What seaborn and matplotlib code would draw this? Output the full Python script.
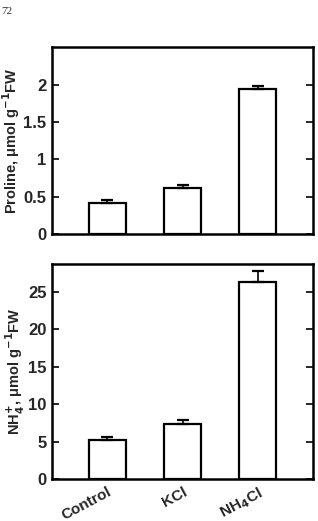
import matplotlib
matplotlib.use("Agg")
import matplotlib.pyplot as plt
import seaborn as sns
import numpy as np
import pandas as pd

# Données
treatments = ["Control", "KCl", "NH$_4$Cl"]
proline = [0.42, 0.61, 1.94]
proline_err = [0.03, 0.04, 0.04]
nh4 = [5.2, 7.4, 26.3]
nh4_err = [0.4, 0.5, 1.5]

sns.set_style("white")
plt.rcParams['font.family'] = ['Liberation Sans', 'DejaVu Sans']
plt.rcParams['font.weight'] = 'bold'

fig = plt.figure(figsize=(3.18, 5.21), dpi=100)
ax1 = fig.add_axes([0.1635, 0.551, 0.8205, 0.359])
ax2 = fig.add_axes([0.1635, 0.0806, 0.8205, 0.4127])


def panel(ax, values, errs, ylim, yticks, yticklabels, ylabel):
    df = pd.DataFrame({"treatment": treatments, "value": values})
    sns.barplot(data=df, x="treatment", y="value", ax=ax, color="white",
                edgecolor="black", linewidth=1.6, width=0.49, errorbar=None)
    x = np.arange(len(values))
    ax.errorbar(x, values, yerr=[np.zeros(len(errs)), errs], fmt="none",
                ecolor="black", elinewidth=1.2, capsize=4, capthick=1.6)
    ax.set_xlim(-0.735, 2.73)
    ax.set_ylim(*ylim)
    ax.set_yticks(yticks)
    ax.set_yticklabels(yticklabels, fontsize=12, fontweight="bold")
    ax.tick_params(axis="y", which="both", direction="in", length=5, width=1.4,
                   left=True, right=True, pad=4)
    ax.tick_params(axis="x", length=0)
    for s in ax.spines.values():
        s.set_linewidth(1.8)
        s.set_color("black")
    ax.set_ylabel(ylabel, fontsize=10.5, fontweight="bold", labelpad=1)
    ax.set_xlabel("")


panel(ax1, proline, proline_err, (0, 2.51), [0, 0.5, 1, 1.5, 2],
      ["0", "0.5", "1", "1.5", "2"], "Proline, \u03bcmol g$^{\\mathbf{-1}}$FW")
ax1.set_xticklabels([])

panel(ax2, nh4, nh4_err, (0, 28.7), [0, 5, 10, 15, 20, 25],
      ["0", "5", "10", "15", "20", "25"],
      "NH$_\\mathbf{4}^\\mathbf{+}$, \u03bcmol g$^{\\mathbf{-1}}$FW")
ax2.set_xticks(range(len(treatments)))
ax2.set_xticklabels(treatments, rotation=28, ha="right", va="top",
                    rotation_mode="anchor", fontsize=11, fontweight="bold")
ax2.tick_params(axis="x", pad=4)

fig.text(0.003, 0.978, "72", fontsize=8, family="Liberation Serif",
         fontweight="normal", color="#333333", va="center")

fig.savefig("out.png", dpi=100)
